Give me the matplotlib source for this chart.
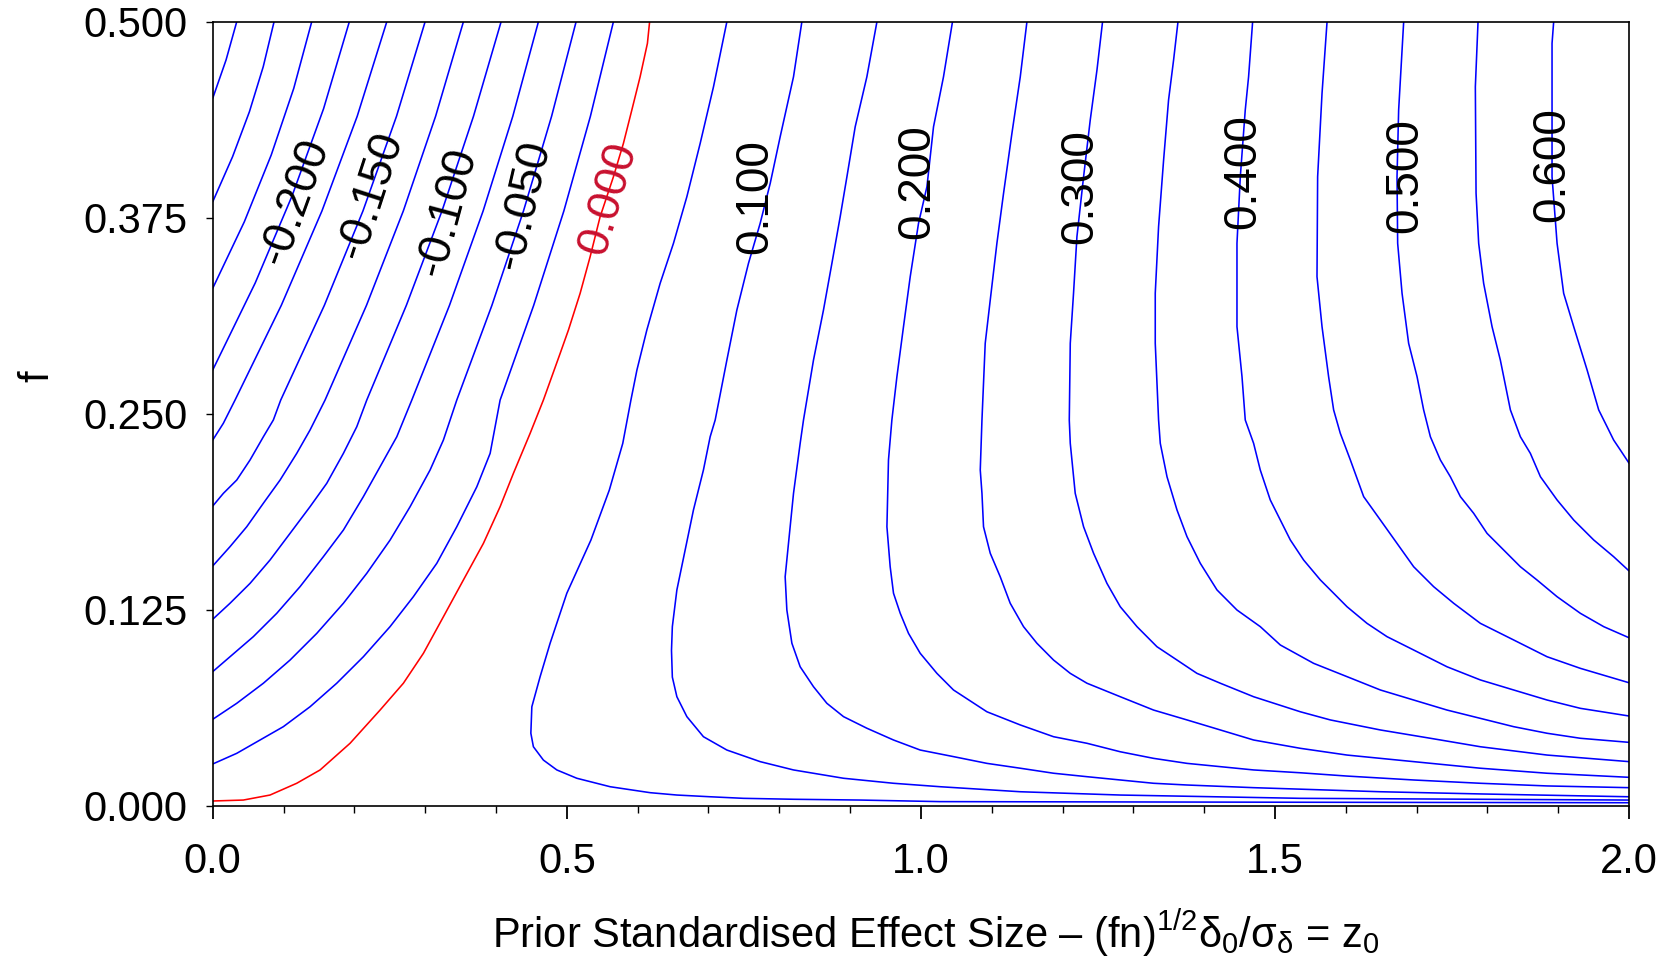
import matplotlib
matplotlib.use("Agg")
import matplotlib.pyplot as plt
from matplotlib.ticker import MultipleLocator

plt.rcParams['font.family'] = ['Liberation Sans', 'DejaVu Sans']
plt.rcParams['mathtext.fontset'] = 'custom'
plt.rcParams['mathtext.rm'] = 'Liberation Sans'
plt.rcParams['mathtext.it'] = 'Liberation Sans'
plt.rcParams['mathtext.default'] = 'regular'

# ---- contour lines (z0, f) ----
z_m275 = [0.0339, 0.0188, 0.0]
f_m275 = [0.5, 0.4756, 0.4512]
z_m250 = [0.0866, 0.0713, 0.0518, 0.0280, 0.0]
f_m250 = [0.5, 0.4713, 0.4426, 0.4139, 0.3852]
z_m225 = [0.1398, 0.1144, 0.0826, 0.0446, 0.0]
f_m225 = [0.5, 0.4575, 0.4150, 0.3724, 0.3300]
z_m200 = [0.1929, 0.1565, 0.1120, 0.0600, 0.0]
f_m200 = [0.5, 0.4445, 0.3889, 0.3334, 0.2779]
z_m175 = [0.2458, 0.2040, 0.1542, 0.0968, 0.0315, 0.0150, 0.0]
f_m175 = [0.5, 0.4397, 0.3793, 0.3191, 0.2587, 0.2439, 0.2332]
z_m150 = [0.2999, 0.2595, 0.2121, 0.1576, 0.0960, 0.0856, 0.0715, 0.0527, 0.0339, 0.0150, 0.0]
f_m150 = [0.5, 0.4397, 0.3793, 0.3191, 0.2587, 0.2460, 0.2353, 0.2205, 0.2077, 0.1992, 0.1911]
z_m125 = [0.3540, 0.3147, 0.2691, 0.2171, 0.1586, 0.1374, 0.1186, 0.0951, 0.0715, 0.0480, 0.0244, 0.0]
f_m125 = [0.5, 0.4397, 0.3793, 0.3191, 0.2587, 0.2396, 0.2247, 0.2077, 0.1929, 0.1779, 0.1652, 0.1529]
z_m100 = [0.4072, 0.3682, 0.3237, 0.2734, 0.2175, 0.2034, 0.1845, 0.1610, 0.1374, 0.1092, 0.0809, 0.0527,
          0.0244, 0.0]
f_m100 = [0.5, 0.4397, 0.3793, 0.3191, 0.2587, 0.2417, 0.2247, 0.2056, 0.1907, 0.1737, 0.1567, 0.1418,
          0.1291, 0.1189]
z_m075 = [0.4599, 0.4237, 0.3818, 0.3343, 0.2811, 0.2599, 0.2363, 0.2127, 0.1845, 0.1562, 0.1233, 0.0904,
          0.0573, 0.0244, 0.0]
f_m075 = [0.5, 0.4397, 0.3793, 0.3191, 0.2587, 0.2353, 0.2162, 0.1971, 0.1758, 0.1588, 0.1397, 0.1227,
          0.1078, 0.0950, 0.0855]
z_m050 = [0.5131, 0.4785, 0.4388, 0.3942, 0.3446, 0.3257, 0.3069, 0.2787, 0.2504, 0.2175, 0.1845, 0.1469,
          0.1092, 0.0715, 0.0339, 0.0]
f_m050 = [0.5, 0.4397, 0.3793, 0.3191, 0.2587, 0.2332, 0.2141, 0.1907, 0.1694, 0.1482, 0.1291, 0.1099,
          0.0929, 0.0781, 0.0653, 0.0551]
z_m025 = [0.5658, 0.5333, 0.4958, 0.4532, 0.4058, 0.3917, 0.3729, 0.3446, 0.3164, 0.2833, 0.2504, 0.2127,
          0.1751, 0.1374, 0.0997, 0.0668, 0.0339, 0.0]
f_m025 = [0.5, 0.4397, 0.3793, 0.3191, 0.2587, 0.2247, 0.2034, 0.1779, 0.1546, 0.1333, 0.1142, 0.0950,
          0.0781, 0.0631, 0.0504, 0.0419, 0.0334, 0.0266]
z_000 = [0.6169, 0.6138, 0.6035, 0.5918, 0.5799, 0.5658, 0.5470, 0.5329, 0.5188, 0.5023, 0.4906, 0.4669,
         0.4482, 0.4246, 0.4058, 0.3822, 0.3540, 0.3257, 0.2975, 0.2692, 0.2363, 0.1939, 0.1516, 0.1186,
         0.0809, 0.0432, 0.0]
f_000 = [0.5, 0.4862, 0.4649, 0.4437, 0.4224, 0.4011, 0.3756, 0.3501, 0.3268, 0.3034, 0.2885, 0.2587,
         0.2375, 0.2120, 0.1907, 0.1673, 0.1440, 0.1205, 0.0972, 0.0781, 0.0610, 0.0398, 0.0228, 0.0143,
         0.0068, 0.0036, 0.0030]
z_p050 = [0.7260, 0.7071, 0.6883, 0.6695, 0.6506, 0.6318, 0.6130, 0.5990, 0.5905, 0.5790, 0.5600, 0.5340,
          0.5000, 0.4764, 0.4623, 0.4506, 0.4492, 0.4528, 0.4669, 0.4859, 0.5141, 0.5612, 0.6177, 0.6554,
          0.7024, 0.7494, 0.8201, 0.9143, 1.0273, 1.5358, 2.0]
f_p050 = [0.5, 0.4585, 0.4224, 0.3884, 0.3587, 0.3332, 0.3034, 0.2779, 0.2587, 0.2311, 0.2013, 0.1694,
          0.1355, 0.1036, 0.0823, 0.0631, 0.0462, 0.0376, 0.0291, 0.0228, 0.0175, 0.0121, 0.0083, 0.0068,
          0.0057, 0.0047, 0.0041, 0.0036, 0.0026, 0.0022, 0.0019]
z_p100 = [0.8319, 0.8201, 0.8013, 0.7872, 0.7730, 0.7565, 0.7401, 0.7260, 0.7095, 0.7024, 0.6929, 0.6788,
          0.6671, 0.6554, 0.6490, 0.6478, 0.6490, 0.6554, 0.6695, 0.6929, 0.7260, 0.7730, 0.8201, 0.8907,
          0.9613, 1.0273, 1.1403, 1.2815, 1.5358, 2.0]
f_p100 = [0.5, 0.4649, 0.4267, 0.3969, 0.3714, 0.3459, 0.3161, 0.2842, 0.2460, 0.2353, 0.2141, 0.1886,
          0.1631, 0.1376, 0.1142, 0.0990, 0.0820, 0.0695, 0.0568, 0.0440, 0.0355, 0.0281, 0.0228, 0.0175,
          0.0143, 0.0121, 0.0089, 0.0068, 0.0047, 0.0036]
z_p150 = [0.9379, 0.9237, 0.9072, 0.8955, 0.8860, 0.8743, 0.8624, 0.8483, 0.8342, 0.8295, 0.8201, 0.8130,
          0.8083, 0.8107, 0.8178, 0.8295, 0.8483, 0.8672, 0.8907, 0.9237, 0.9613, 0.9990, 1.0460, 1.0932,
          1.1403, 1.1873, 1.2345, 1.2815, 1.3285, 1.3757, 1.4698, 1.6488, 1.7901, 2.0]
f_p150 = [0.5, 0.4649, 0.4330, 0.4011, 0.3756, 0.3459, 0.3161, 0.2842, 0.2460, 0.2311, 0.1992, 0.1673,
          0.1460, 0.1248, 0.1036, 0.0886, 0.0759, 0.0653, 0.0568, 0.0494, 0.0419, 0.0355, 0.0313, 0.0270,
          0.0239, 0.0207, 0.0185, 0.0164, 0.0143, 0.0132, 0.0115, 0.0089, 0.0075, 0.0057]
z_p200 = [1.0446, 1.0319, 1.0178, 1.0085, 0.9966, 0.9849, 0.9754, 0.9661, 0.9590, 0.9542, 0.9520, 0.9566,
          0.9613, 0.9708, 0.9825, 0.9990, 1.0226, 1.0460, 1.0932, 1.1403, 1.1873, 1.2345, 1.2815, 1.3285,
          1.3757, 1.4228, 1.4698, 1.5358, 1.6017, 1.6958, 1.7900, 1.8842, 2.0]
f_p200 = [0.5, 0.4649, 0.4330, 0.3948, 0.3714, 0.3374, 0.3055, 0.2736, 0.2460, 0.2205, 0.1779, 0.1524,
          0.1355, 0.1227, 0.1099, 0.0972, 0.0844, 0.0738, 0.0599, 0.0515, 0.0440, 0.0398, 0.0344, 0.0302,
          0.0270, 0.0249, 0.0228, 0.0210, 0.0189, 0.0164, 0.0143, 0.0126, 0.0115]
z_p250 = [1.1497, 1.1403, 1.1285, 1.1167, 1.1073, 1.0979, 1.0908, 1.0862, 1.0838, 1.0862, 1.0884, 1.0979,
          1.1120, 1.1261, 1.1449, 1.1638, 1.1873, 1.2109, 1.2345, 1.2815, 1.3285, 1.3757, 1.4228, 1.4698,
          1.5358, 1.6017, 1.6958, 1.7900, 1.8842, 2.0]
f_p250 = [0.5, 0.4649, 0.4288, 0.3906, 0.3587, 0.3225, 0.2949, 0.2460, 0.2141, 0.1992, 0.1779, 0.1610,
          0.1460, 0.1291, 0.1142, 0.1036, 0.0929, 0.0844, 0.0781, 0.0695, 0.0610, 0.0547, 0.0483, 0.0419,
          0.0366, 0.0323, 0.0281, 0.0239, 0.0207, 0.0181]
z_p300 = [1.2565, 1.2486, 1.2391, 1.2297, 1.2203, 1.2155, 1.2109, 1.2095, 1.2109, 1.2179, 1.2297, 1.2438,
          1.2627, 1.2815, 1.3051, 1.3333, 1.3616, 1.3898, 1.4228, 1.4698, 1.5358, 1.5781, 1.6488, 1.7194,
          1.7900, 1.8842, 2.0]
f_p300 = [0.5, 0.4692, 0.4373, 0.4011, 0.3629, 0.3268, 0.2949, 0.2460, 0.2311, 0.1992, 0.1779, 0.1610,
          0.1418, 0.1269, 0.1142, 0.1014, 0.0929, 0.0844, 0.0781, 0.0695, 0.0599, 0.0547, 0.0483, 0.0430,
          0.0376, 0.0323, 0.0281]
z_p350 = [1.3630, 1.3568, 1.3497, 1.3427, 1.3356, 1.3309, 1.3309, 1.3356, 1.3380, 1.3475, 1.3616, 1.3757,
          1.3945, 1.4181, 1.4463, 1.4792, 1.5075, 1.5545, 1.6017, 1.6488, 1.6958, 1.7429, 1.7900, 1.8370,
          1.8842, 1.9312, 2.0]
f_p350 = [0.5, 0.4756, 0.4501, 0.4118, 0.3693, 0.3268, 0.2949, 0.2460, 0.2311, 0.2098, 0.1886, 0.1716,
          0.1546, 0.1376, 0.1248, 0.1142, 0.1025, 0.0908, 0.0823, 0.0738, 0.0674, 0.0610, 0.0557, 0.0504,
          0.0462, 0.0430, 0.0404]
z_p400 = [1.4684, 1.4627, 1.4580, 1.4510, 1.4463, 1.4463, 1.4534, 1.4580, 1.4698, 1.4792, 1.4933, 1.5075,
          1.5216, 1.5404, 1.5640, 1.5828, 1.6017, 1.6299, 1.6582, 1.6958, 1.7429, 1.7900, 1.8370, 1.8842,
          1.9312, 2.0]
f_p400 = [0.5, 0.4649, 0.4437, 0.4011, 0.3587, 0.3055, 0.2736, 0.2460, 0.2311, 0.2141, 0.1950, 0.1822,
          0.1695, 0.1567, 0.1440, 0.1355, 0.1269, 0.1163, 0.1078, 0.0993, 0.0886, 0.0802, 0.0738, 0.0674,
          0.0621, 0.0572]
z_p450 = [1.5735, 1.5664, 1.5602, 1.5593, 1.5664, 1.5757, 1.5828, 1.5922, 1.6064, 1.6252, 1.6488, 1.6723,
          1.6958, 1.7240, 1.7523, 1.7900, 1.8370, 1.8842, 1.9312, 2.0]
f_p450 = [0.5, 0.4543, 0.4011, 0.3374, 0.3055, 0.2736, 0.2524, 0.2375, 0.2205, 0.1971, 0.1822, 0.1673,
          0.1524, 0.1397, 0.1291, 0.1163, 0.1057, 0.0950, 0.0876, 0.0784]
z_p500 = [1.6817, 1.6746, 1.6723, 1.6732, 1.6794, 1.6887, 1.7006, 1.7099, 1.7194, 1.7335, 1.7476, 1.7618,
          1.7805, 1.7994, 1.8182, 1.8465, 1.8701, 1.8983, 1.9312, 1.9641, 2.0]
f_p500 = [0.5, 0.4437, 0.4011, 0.3587, 0.3268, 0.2949, 0.2736, 0.2524, 0.2353, 0.2205, 0.2098, 0.1971,
          0.1865, 0.1737, 0.1652, 0.1524, 0.1439, 0.1333, 0.1227, 0.1142, 0.1071]
z_p550 = [1.7867, 1.7829, 1.7839, 1.7876, 1.7946, 1.8065, 1.8182, 1.8324, 1.8465, 1.8606, 1.8748, 1.8983,
          1.9218, 1.9500, 1.9782, 2.0]
f_p550 = [0.5, 0.4585, 0.3906, 0.3587, 0.3332, 0.3055, 0.2842, 0.2524, 0.2353, 0.2247, 0.2098, 0.1950,
          0.1822, 0.1695, 0.1588, 0.1497]
z_p600 = [1.8935, 1.8912, 1.8912, 1.8983, 1.9076, 1.9218, 1.9407, 1.9571, 1.9689, 1.9782, 1.9877, 2.0]
f_p600 = [0.5, 0.4862, 0.4011, 0.3587, 0.3268, 0.3055, 0.2779, 0.2524, 0.2417, 0.2332, 0.2268, 0.2184]

# labels of the contour levels
label_texts = ['-0.200', '-0.150', '-0.100', '-0.050', '0.000',
               '0.100', '0.200', '0.300', '0.400', '0.500', '0.600']
label_z = [0.1162, 0.2232, 0.3305, 0.4379, 0.5588, 0.7660, 0.9944, 1.2250, 1.4556, 1.6840, 1.8912]
label_f = [0.3852, 0.3895, 0.3788, 0.3831, 0.3874, 0.3884, 0.3980, 0.3948, 0.4043, 0.4022, 0.4086]
label_rot = [70, 72, 75, 77, 74, 90, 90, 90, 90, 90, 90]

x_ticks = [0.0, 0.5, 1.0, 1.5, 2.0]
x_ticklabels = ['0.0', '0.5', '1.0', '1.5', '2.0']
y_ticks = [0.0, 0.125, 0.25, 0.375, 0.5]
y_ticklabels = ['0.000', '0.125', '0.250', '0.375', '0.500']

neg_lines = [(z_m275, f_m275), (z_m250, f_m250), (z_m225, f_m225), (z_m200, f_m200),
             (z_m175, f_m175), (z_m150, f_m150), (z_m125, f_m125), (z_m100, f_m100),
             (z_m075, f_m075), (z_m050, f_m050), (z_m025, f_m025)]
pos_lines = [(z_p050, f_p050), (z_p100, f_p100), (z_p150, f_p150), (z_p200, f_p200),
             (z_p250, f_p250), (z_p300, f_p300), (z_p350, f_p350), (z_p400, f_p400),
             (z_p450, f_p450), (z_p500, f_p500), (z_p550, f_p550), (z_p600, f_p600)]

fig = plt.figure(figsize=(16.62, 9.57), dpi=100)
ax = fig.add_axes([0.1280, 0.1581, 0.8522, 0.8192])

for zz, ff in neg_lines + pos_lines:
    ax.plot(zz, ff, color='#0000FF', lw=1.15, solid_joinstyle='round', solid_capstyle='round')
ax.plot(z_000, f_000, color='#FF0000', lw=1.15, solid_joinstyle='round')

for t, xz, yf, r in zip(label_texts, label_z, label_f, label_rot):
    col = '#C8102E' if t == '0.000' else 'black'
    ax.text(xz, yf, t, fontsize=33, color=col, rotation=r, rotation_mode='anchor',
            ha='center', va='center', zorder=5)

ax.set_xlim(0, 2.0)
ax.set_ylim(0, 0.5)
ax.set_xticks(x_ticks)
ax.set_xticklabels(x_ticklabels)
ax.xaxis.set_minor_locator(MultipleLocator(0.1))
ax.set_yticks(y_ticks)
ax.set_yticklabels(y_ticklabels)
ax.tick_params(axis='x', which='major', direction='out', length=9, width=1.3,
               labelsize=30, pad=17)
ax.tick_params(axis='x', which='minor', direction='out', length=5, width=1.0)
ax.tick_params(axis='y', which='major', direction='out', length=5, width=1.0,
               labelsize=30, pad=13)
for s in ax.spines.values():
    s.set_linewidth(1.2)
    s.set_color('black')

fig.text(0.0223, 0.6071, 'f', fontsize=30, rotation=90, ha='center', va='center')
fig.text(0.5629, 0.0251,
         'Prior Standardised Effect Size \u2013 (fn)$^{1/2}$\u03b4$_0$/\u03c3$_\u03b4$ = z$_0$',
         fontsize=30, ha='center', va='center')

fig.savefig('out.png', dpi=100)
